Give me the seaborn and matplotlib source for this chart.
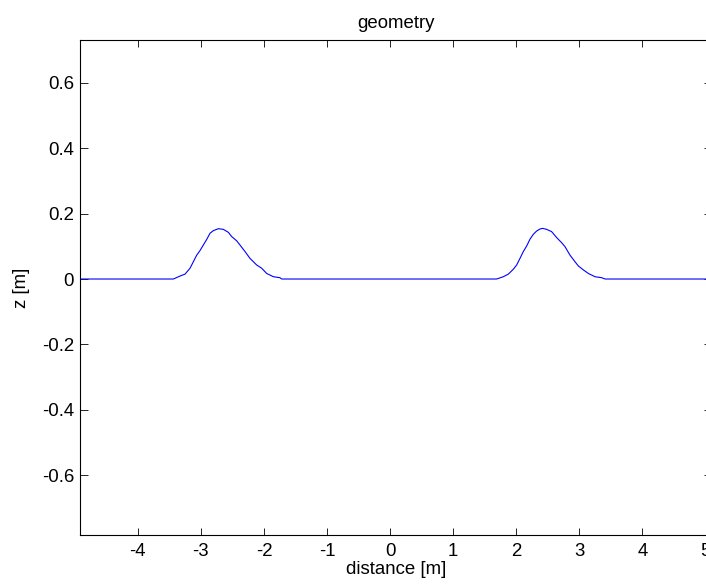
import matplotlib
matplotlib.use("Agg")
import matplotlib.pyplot as plt
import seaborn as sns
import pandas as pd

# ---- data ----
distance = [-4.92,
            -3.435, -3.330, -3.250, -3.171, -3.118, -3.065, -3.013, -2.960, -2.907,
            -2.854, -2.801, -2.722, -2.643, -2.564, -2.511, -2.432, -2.379, -2.299,
            -2.220, -2.167, -2.115, -2.035, -1.956, -1.850, -1.745, -1.718,
            1.690, 1.795, 1.875, 1.954, 2.007, 2.059, 2.112, 2.165, 2.218, 2.271,
            2.324, 2.376, 2.419, 2.482, 2.561, 2.640, 2.720, 2.773, 2.852, 2.931,
            2.984, 3.063, 3.143, 3.248, 3.354, 3.407,
            5.11]
z = [0.0,
     0.0, 0.009, 0.015, 0.033, 0.053, 0.073, 0.087, 0.104, 0.121,
     0.140, 0.148, 0.154, 0.152, 0.143, 0.130, 0.117, 0.104, 0.084,
     0.063, 0.053, 0.043, 0.033, 0.017, 0.007, 0.004, 0.0,
     0.0, 0.007, 0.015, 0.030, 0.043, 0.063, 0.084, 0.101, 0.122, 0.137,
     0.147, 0.153, 0.155, 0.152, 0.145, 0.127, 0.111, 0.099, 0.073, 0.053,
     0.040, 0.028, 0.017, 0.007, 0.004, 0.0,
     0.0]

xticks = [-4, -3, -2, -1, 0, 1, 2, 3, 4, 5]
xticklabels = ["-4", "-3", "-2", "-1", "0", "1", "2", "3", "4", "5"]
yticks = [-0.6, -0.4, -0.2, 0, 0.2, 0.4, 0.6]
yticklabels = ["-0.6", "-0.4", "-0.2", "0", "0.2", "0.4", "0.6"]

df = pd.DataFrame({"distance": distance, "z": z})

sns.set_style("white")
plt.rcParams["font.family"] = ["Liberation Sans", "DejaVu Sans"]
plt.rcParams["font.size"] = 13.4
plt.rcParams["text.color"] = "black"
plt.rcParams["axes.labelcolor"] = "black"
plt.rcParams["xtick.color"] = "black"
plt.rcParams["ytick.color"] = "black"

W, H = 706, 588
fig = plt.figure(figsize=(W / 100, H / 100), dpi=100)
left, right, top, bottom = 80, 712, 40, 535.3
ax = fig.add_axes([left / W, 1 - bottom / H, (right - left) / W, (bottom - top) / H])

sns.lineplot(data=df, x="distance", y="z", ax=ax, sort=False, estimator=None,
             color="#0000ff", linewidth=0.8)

ax.set_xlim(-4.915, 5.103)
ax.set_ylim(-0.7845, 0.7316)
ax.set_xticks(xticks)
ax.set_xticklabels(xticklabels)
ax.set_yticks(yticks)
ax.set_yticklabels(yticklabels)

for s in ax.spines.values():
    s.set_visible(True)
    s.set_color("black")
    s.set_linewidth(0.8)

ax.tick_params(axis="x", direction="in", length=4.7, width=0.6, top=True, bottom=True,
               pad=5.4, labelsize=13.4, colors="black")
ax.tick_params(axis="y", direction="in", length=5.8, width=0.6, left=True, right=True,
               pad=4.3, labelsize=13.4, colors="black")

ax.set_title("geometry", fontsize=13.4, pad=9, color="black")
ax.set_xlabel("distance [m]", fontsize=13.4, labelpad=1, color="black")
ax.set_ylabel("z [m]", fontsize=13.4, labelpad=8.6, color="black")
ax.grid(False)

fig.savefig("out.png", dpi=100)
